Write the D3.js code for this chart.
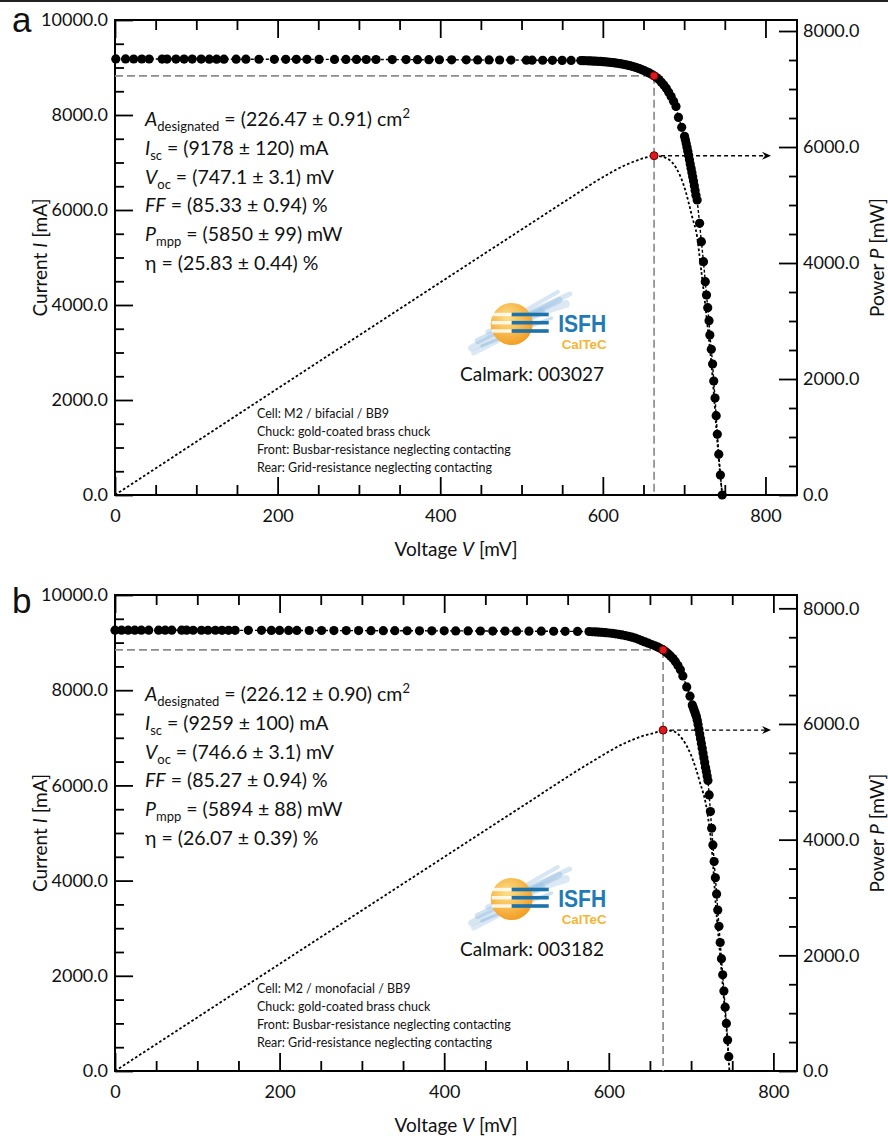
<!DOCTYPE html>
<html>
<head>
<meta charset="utf-8">
<script src="https://cdn.jsdelivr.net/npm/d3@7/dist/d3.min.js"></script>
<style>
body { margin: 0; background: #fff; }
svg { display: block; font-family: Lato, "Open Sans", sans-serif; }
</style>
</head>
<body>
<div id="chart"></div>
<script>
// I-V points [voltage mV, current mA]
var ivA = [
  [1,9180],[13,9180],[23,9179],[33,9179],[42,9179],[58,9178],[64,9178],[75,9178],[85,9177],[95,9177],
  [106,9177],[116,9176],[125,9176],[134,9176],[149,9175],[161,9175],[177,9174],[196,9173],[210,9173],[223,9172],
  [236,9172],[251,9171],[270,9170],[284,9170],[297,9169],[309,9168],[321,9168],[341,9167],[358,9166],[372,9165],
  [386,9164],[399,9163],[414,9162],[432,9161],[446,9160],[460,9159],[473,9158],[487,9157],[506,9155],[513,9154],
  [526,9153],[538,9151],[550,9150],[561,9148],
  [573,9146],[576,9144],[579,9142],[582,9140],[585,9138],[588,9136],[591,9133],[594,9130],[597,9127],[600,9123],
  [603,9119],[606,9114],[609,9109],[612,9103],[615,9096],[618,9089],[621,9081],[624,9072],[627,9062],[630,9051],
  [633,9039],[636,9025],[639,9010],[642,8993],[645,8975],[648,8955],[651,8934],[654,8911],[657,8886],[660,8857],
  [663,8824],[666,8790],[669,8745],[672,8690],[675,8630],[678,8562],[681,8480],[684,8390],[687,8290],[690,8180],
  [693,7950],[697,7740],
  [700.5,7550],[701.5,7480],[702.5,7400],[703.5,7320],[704.5,7235],[705.5,7150],[706.5,7060],[707.5,6970],
  [708.5,6880],[709.5,6790],[710.5,6700],[711.5,6610],[712.5,6510],[713.5,6410],[714.5,6310],
  [716,6211],[719,5720],[721.2,5333],[723.8,4912],[726,4491],[727.5,4211],[729,3943],[730.6,3669],[731.6,3368],
  [733.4,3067],[735,2758],[736.4,2400],[738,2042],[739.4,1669],[740.8,1278],[742.6,857],[744.6,421],[746.8,0]
];
var ivB = [
  [0,9262],[8,9262],[16,9262],[24,9261],[32,9261],[41,9261],[53,9261],[61,9260],[69,9260],[81,9260],
  [87,9260],[95,9259],[105,9259],[113,9259],[122,9259],[130,9258],[138,9258],[146,9258],[162,9257],[178,9257],
  [190,9256],[200,9256],[211,9255],[221,9255],[236,9254],[251,9254],[266,9253],[281,9252],[296,9252],[311,9251],
  [326,9250],[340,9250],[355,9249],[370,9248],[385,9247],[400,9247],[414,9246],[429,9245],[444,9244],[459,9243],
  [474,9242],[488,9241],[503,9240],[518,9239],[533,9238],[547,9236],[562,9235],[576,9233],
  [580,9228],[584,9224],[588,9220],[592,9215],[596,9209],[600,9202],[604,9194],[608,9185],[612,9174],[616,9162],
  [620,9148],[624,9132],[628,9115],[632,9095],[636,9069],[640,9041],[644,9014],[648,8987],[652,8960],[656,8932],
  [660,8903],[663,8876],[666,8847],[669,8810],[672,8768],[675,8720],[678,8665],[681,8600],[684,8520],[687,8430],
  [690,8300],[694.7,8069],[698.7,7874],
  [701.5,7690],[702.5,7640],[703.5,7590],[704.5,7540],[705.5,7490],[706.5,7440],[707.5,7370],[708.5,7280],
  [709.5,7180],[710.5,7080],[711.5,6980],[712.5,6880],[713.5,6780],[714.5,6680],[715.5,6580],[716.5,6480],
  [717.5,6380],[718.5,6290],[719.5,6200],[720.5,6105],
  [722,5800],[723.5,5450],[725,5100],[726.5,4750],[728,4400],[729.5,4060],[731,3720],[732.4,3380],[733.9,3040],
  [735.4,2700],[736.9,2360],[738.4,2020],[739.9,1680],[741.4,1340],[742.9,1000],[744.4,650],[745.8,300]
];

// power curves (mV, mW)
var powerVoltA = [0,100,200,300,400,500,560,600,630,650,663,675,690,700,710,716,720,725,730,735,740,745,747];
var powerA     = [0,918,1835,2750,3665,4577,5123,5480,5703,5805,5850,5825,5644,5320,4789,4447,3989,3393,2752,2027,1066,257,0];
var powerVoltB = [0,100,200,300,400,500,580,620,640,655,666,678,690,700,710,720.5,726,730,735,740,744,746.6];
var powerB     = [0,926,1851,2776,3700,4623,5352,5672,5786,5844,5892,5875,5727,5460,5027,4399,3703,2884,2051,1228,551,0];

// maximum power point [V, I, P]
var mppA = [663, 8824, 5850];
var mppB = [666, 8847, 5894];

var statsA = [
  [["A","i"],["designated","sub"],[" = (226.47 ± 0.91) cm",""],["2","sup"]],
  [["I","i"],["sc","sub"],[" = (9178 ± 120) mA",""]],
  [["V","i"],["oc","sub"],[" = (747.1 ± 3.1) mV",""]],
  [["FF","i"],[" = (85.33 ± 0.94) %",""]],
  [["P","i"],["mpp","sub"],[" = (5850 ± 99) mW",""]],
  [["η",""],[" = (25.83 ± 0.44) %",""]]
];
var statsB = [
  [["A","i"],["designated","sub"],[" = (226.12 ± 0.90) cm",""],["2","sup"]],
  [["I","i"],["sc","sub"],[" = (9259 ± 100) mA",""]],
  [["V","i"],["oc","sub"],[" = (746.6 ± 3.1) mV",""]],
  [["FF","i"],[" = (85.27 ± 0.94) %",""]],
  [["P","i"],["mpp","sub"],[" = (5894 ± 88) mW",""]],
  [["η",""],[" = (26.07 ± 0.39) %",""]]
];
var notesA = ["Cell: M2 / bifacial / BB9", "Chuck: gold-coated brass chuck",
  "Front: Busbar-resistance neglecting contacting", "Rear: Grid-resistance neglecting contacting"];
var notesB = ["Cell: M2 / monofacial / BB9", "Chuck: gold-coated brass chuck",
  "Front: Busbar-resistance neglecting contacting", "Rear: Grid-resistance neglecting contacting"];

var xMajor = [0,200,400,600,800];
var xMinor = [50,100,150,250,300,350,450,500,550,650,700,750];
var iMajor = [0,2000,4000,6000,8000,10000];
var iMinor = [500,1000,1500,2500,3000,3500,4500,5000,5500,6500,7000,7500,8500,9000,9500];
var pMajor = [0,2000,4000,6000,8000];
var pMinor = [500,1000,1500,2500,3000,3500,4500,5000,5500,6500,7000,7500];

var width = 888, height = 1142;
var left = 115, right = 797;

var svg = d3.select("#chart").append("svg")
    .attr("width", width)
    .attr("height", height);

svg.append("rect").attr("x", 0).attr("y", 0).attr("width", width).attr("height", 2).attr("fill", "#222");

var panels = [
  { name: "a", top: 20, bottom: 495, labelY: 32, vMax: 838.8, pMax: 8190, iv: ivA, pv: powerVoltA, pw: powerA,
    mpp: mppA, stats: statsA, notes: notesA, calmark: "Calmark: 003027" },
  { name: "b", top: 595, bottom: 1071, labelY: 613, vMax: 828.7, pMax: 8230, iv: ivB, pv: powerVoltB, pw: powerB,
    mpp: mppB, stats: statsB, notes: notesB, calmark: "Calmark: 003182" }
];

function rich(sel, segs, subSize) {
  var shift = 0;
  segs.forEach(function (s) {
    var want = s[1] === "sub" ? 5 : (s[1] === "sup" ? -8 : 0);
    var t = sel.append("tspan").text(s[0]).attr("dy", want - shift);
    shift = want;
    if (s[1] === "i") t.style("font-style", "italic");
    if (s[1] === "sub" || s[1] === "sup") t.style("font-size", subSize + "px");
  });
}

function styleAxis(a) {
  a.select(".domain").remove();
  a.selectAll(".tick line").attr("stroke", "#000").attr("stroke-width", 1.8);
  a.selectAll("text").style("font-size", "18px").style("font-family", "Lato, sans-serif").attr("fill", "#111");
}

function drawLogo(g, cx, cy) {
  // light blue brush strokes behind the sun
  var brush = [
    [-40, 24, 30, -12, 7, 0.35], [-34, 17, 48, -24, 6, 0.4], [-24, 8, 58, -30, 5, 0.35],
    [-38, 29, 18, 0, 5, 0.3], [-12, 1, 54, -20, 8, 0.3], [4, -8, 46, -32, 4, 0.35],
    [-30, 22, 40, -6, 3, 0.45]
  ];
  brush.forEach(function (b) {
    g.append("line")
      .attr("x1", cx + b[0]).attr("y1", cy + b[1])
      .attr("x2", cx + b[2]).attr("y2", cy + b[3])
      .attr("stroke", "#8fb9de").attr("stroke-width", b[4])
      .attr("stroke-linecap", "round").attr("opacity", b[5]);
  });
  var gid = "sun" + Math.round(cy);
  var grad = svg.append("defs").append("radialGradient").attr("id", gid)
    .attr("cx", "40%").attr("cy", "35%").attr("r", "70%");
  grad.append("stop").attr("offset", "0%").attr("stop-color", "#fde08a");
  grad.append("stop").attr("offset", "100%").attr("stop-color", "#f29a1e");
  g.append("circle").attr("cx", cx).attr("cy", cy).attr("r", 21).attr("fill", "url(#" + gid + ")");
  [-9.5, -1.3, 7].forEach(function (dy) {
    g.append("rect").attr("x", cx - 20).attr("y", cy + dy - 1.7).attr("width", 20).attr("height", 3.4)
      .attr("fill", "#fff").attr("opacity", 0.85);
    g.append("rect").attr("x", cx).attr("y", cy + dy - 1.8).attr("width", 37).attr("height", 3.6)
      .attr("fill", "#1c72ab");
  });
  g.append("text").attr("x", cx + 46.5).attr("y", cy + 7.5)
    .attr("textLength", 48).attr("lengthAdjust", "spacingAndGlyphs")
    .style("font-family", "'Liberation Sans', Arial, sans-serif")
    .style("font-size", "23px").style("font-weight", "bold").attr("fill", "#1f7ab6").text("ISFH");
  g.append("text").attr("x", cx + 50).attr("y", cy + 25)
    .attr("textLength", 45).attr("lengthAdjust", "spacingAndGlyphs")
    .style("font-family", "'Liberation Sans', Arial, sans-serif")
    .style("font-size", "12.5px").style("font-weight", "bold").attr("fill", "#f6b535").text("CalTeC");
}

panels.forEach(function (p) {
  var g = svg.append("g");
  var x = d3.scaleLinear().domain([0, p.vMax]).range([left, right]);
  var yI = d3.scaleLinear().domain([0, 10000]).range([p.bottom, p.top]);
  var yP = d3.scaleLinear().domain([0, p.pMax]).range([p.bottom, p.top]);

  // axes, ticks pointing inward
  styleAxis(g.append("g").attr("transform", "translate(0," + p.bottom + ")")
    .call(d3.axisBottom(x).tickValues(xMajor).tickSize(-18).tickPadding(14).tickFormat(d3.format("d"))));
  styleAxis(g.append("g").attr("transform", "translate(0," + p.bottom + ")")
    .call(d3.axisBottom(x).tickValues(xMinor).tickSize(-10).tickFormat("")));
  styleAxis(g.append("g").attr("transform", "translate(0," + p.top + ")")
    .call(d3.axisTop(x).tickValues(xMajor).tickSize(-18).tickFormat("")));
  styleAxis(g.append("g").attr("transform", "translate(0," + p.top + ")")
    .call(d3.axisTop(x).tickValues(xMinor).tickSize(-10).tickFormat("")));
  styleAxis(g.append("g").attr("transform", "translate(" + left + ",0)")
    .call(d3.axisLeft(yI).tickValues(iMajor).tickSize(-18).tickPadding(7).tickFormat(d3.format(".1f"))));
  styleAxis(g.append("g").attr("transform", "translate(" + left + ",0)")
    .call(d3.axisLeft(yI).tickValues(iMinor).tickSize(-9).tickFormat("")));
  styleAxis(g.append("g").attr("transform", "translate(" + right + ",0)")
    .call(d3.axisRight(yP).tickValues(pMajor).tickSize(-18).tickPadding(6).tickFormat(d3.format(".1f"))));
  styleAxis(g.append("g").attr("transform", "translate(" + right + ",0)")
    .call(d3.axisRight(yP).tickValues(pMinor).tickSize(-8).tickFormat("")));

  g.append("rect").attr("x", left).attr("y", p.top)
    .attr("width", right - left).attr("height", p.bottom - p.top)
    .attr("fill", "none").attr("stroke", "#000").attr("stroke-width", 2);

  // axis titles
  var mid = (p.top + p.bottom) / 2;
  var tx = g.append("text").attr("x", (left + right) / 2).attr("y", p.bottom + 61)
    .attr("text-anchor", "middle").style("font-size", "19px").attr("fill", "#111");
  rich(tx, [["Voltage ", ""], ["V", "i"], [" [mV]", ""]], 19);
  var ty = g.append("text").attr("transform", "translate(47," + mid + ") rotate(-90)")
    .attr("text-anchor", "middle").style("font-size", "19px").attr("fill", "#111");
  rich(ty, [["Current ", ""], ["I", "i"], [" [mA]", ""]], 19);
  var tp = g.append("text").attr("transform", "translate(884," + mid + ") rotate(-90)")
    .attr("text-anchor", "middle").style("font-size", "19px").attr("fill", "#111");
  rich(tp, [["Power ", ""], ["P", "i"], [" [mW]", ""]], 19);

  g.append("text").attr("x", 12).attr("y", p.labelY)
    .style("font-family", "'Liberation Sans', Arial, sans-serif").style("font-size", "35px")
    .attr("fill", "#111").text(p.name);

  // power curve
  var powerPts = p.pv.map(function (v, i) { return [v, p.pw[i]]; });
  g.append("path").datum(powerPts)
    .attr("d", d3.line().x(function (d) { return x(d[0]); }).y(function (d) { return yP(d[1]); })
      .curve(d3.curveMonotoneX))
    .attr("fill", "none").attr("stroke", "#000").attr("stroke-width", 1.8)
    .attr("stroke-dasharray", "2.6,2.2");

  // I-V connecting line
  g.append("path").datum(p.iv)
    .attr("d", d3.line().x(function (d) { return x(d[0]); }).y(function (d) { return yI(d[1]); }))
    .attr("fill", "none").attr("stroke", "#000").attr("stroke-width", 1.4)
    .attr("stroke-dasharray", "3,2");

  // guide lines to MPP
  var mx = x(p.mpp[0]), my = yI(p.mpp[1]), py = yP(p.mpp[2]);
  g.append("line").attr("x1", left).attr("x2", mx).attr("y1", my).attr("y2", my)
    .attr("stroke", "#8c8c8c").attr("stroke-width", 1.7).attr("stroke-dasharray", "8,4");
  g.append("line").attr("x1", mx).attr("x2", mx).attr("y1", my).attr("y2", p.bottom)
    .attr("stroke", "#8c8c8c").attr("stroke-width", 1.7).attr("stroke-dasharray", "8,4");

  // arrow to power axis
  var ax = right - 26;
  g.append("line").attr("x1", mx).attr("x2", ax - 6).attr("y1", py).attr("y2", py)
    .attr("stroke", "#000").attr("stroke-width", 1.4).attr("stroke-dasharray", "4,3");
  g.append("path")
    .attr("d", "M" + ax + "," + py + "L" + (ax - 9) + "," + (py - 4) + "L" + (ax - 6) + "," + py +
      "L" + (ax - 9) + "," + (py + 4) + "Z")
    .attr("fill", "#000");

  // I-V dots
  g.selectAll("circle.iv").data(p.iv).enter().append("circle")
    .attr("class", "iv")
    .attr("cx", function (d) { return x(d[0]); })
    .attr("cy", function (d) { return yI(d[1]); })
    .attr("r", 4.6).attr("fill", "#000");

  g.append("circle").attr("cx", mx).attr("cy", my).attr("r", 4)
    .attr("fill", "#e3161b").attr("stroke", "#5a0505").attr("stroke-width", 1);
  g.append("circle").attr("cx", mx).attr("cy", py).attr("r", 4)
    .attr("fill", "#e3161b").attr("stroke", "#5a0505").attr("stroke-width", 1);

  // parameter block
  p.stats.forEach(function (line, i) {
    var t = g.append("text").attr("x", 145).attr("y", p.top + 106 + i * 28.8)
      .style("font-size", "19.5px").attr("fill", "#111");
    rich(t, line, 13);
  });

  drawLogo(g, 511.7, p.top + 304);
  g.append("text").attr("x", 460).attr("y", p.top + 361)
    .style("font-size", "19px").attr("fill", "#111").text(p.calmark);

  p.notes.forEach(function (n, i) {
    g.append("text").attr("x", 257).attr("y", p.top + 398 + i * 18)
      .style("font-size", "12.5px").attr("fill", "#111").text(n);
  });
});
</script>
</body>
</html>
